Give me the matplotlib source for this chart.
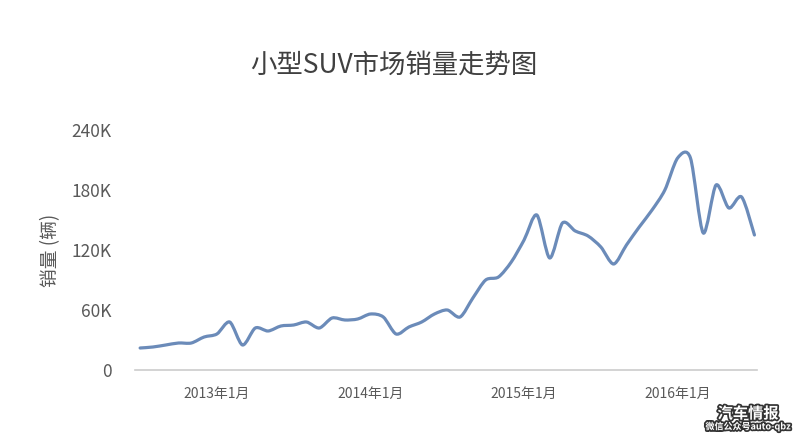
import matplotlib
matplotlib.use("Agg")
import matplotlib.pyplot as plt
import matplotlib.patheffects as pe
from matplotlib.path import Path
from matplotlib.patches import PathPatch
import numpy as np

plt.rcParams["font.family"] = ["Noto Sans CJK SC", "DejaVu Sans"]

# monthly sales, Jul 2012 .. Jul 2016 (thousand units)
months = np.arange(49)
sales = [22, 23, 25, 27, 27, 33, 36, 48, 25, 42, 39, 44, 45, 48, 42, 52, 50, 51,
         56, 53, 36, 43, 48, 56, 60, 53, 72, 90, 93, 108, 130, 155, 112, 147, 139,
         134, 123, 106, 125, 143, 160, 180, 212, 212, 137, 185, 162, 173, 135]
tick_pos = [6, 18, 30, 42]
tick_labels = ["2013年1月", "2014年1月", "2015年1月", "2016年1月"]
y_ticks = [0, 60, 120, 180, 240]
y_labels = ["0", "60K", "120K", "180K", "240K"]

LINE = "#6b8bb9"
GREY = "#595959"

fig = plt.figure(figsize=(8, 4.36), dpi=100)
ax = fig.add_axes([135 / 800, 66 / 436, 622 / 800, 240 / 436])


def smooth_path(x, y, t=1 / 7):
    # Catmull-Rom style cubic bezier through the data points
    x = np.asarray(x, float)
    y = np.asarray(y, float)
    verts = [(x[0], y[0])]
    codes = [Path.MOVETO]
    n = len(x)
    for i in range(n - 1):
        p0 = i - 1 if i > 0 else i
        p3 = i + 2 if i + 2 < n else i + 1
        c1 = (x[i] + (x[i + 1] - x[p0]) * t, y[i] + (y[i + 1] - y[p0]) * t)
        c2 = (x[i + 1] - (x[p3] - x[i]) * t, y[i + 1] - (y[p3] - y[i]) * t)
        verts += [c1, c2, (x[i + 1], y[i + 1])]
        codes += [Path.CURVE4] * 3
    return Path(verts, codes)


ax.add_patch(PathPatch(smooth_path(months, sales), facecolor="none",
                       edgecolor=LINE, lw=2.3, capstyle="round", joinstyle="round"))

ax.set_xlim(-0.4, 48.2)
ax.set_ylim(0, 240)
ax.set_yticks(y_ticks)
ax.set_yticklabels(y_labels)
ax.set_xticks(tick_pos)
ax.set_xticklabels(tick_labels)
ax.tick_params(axis="y", length=0, pad=17, labelsize=12.5, labelcolor=GREY)
ax.tick_params(axis="x", length=0, pad=12, labelsize=10, labelcolor=GREY)
for s in ["top", "right", "left"]:
    ax.spines[s].set_visible(False)
ax.spines["bottom"].set_color("#cccccc")
ax.spines["bottom"].set_linewidth(1.2)

ax.set_ylabel("销量 (辆)", fontsize=13.5, color=GREY, labelpad=7)
fig.text(0.492, 0.85, "小型SUV市场销量走势图", ha="center", va="center",
         fontsize=19, color="#404040")

# watermark
wm = [pe.withStroke(linewidth=2.5, foreground="#333333")]
fig.text(0.935, 0.052, "汽车情报", ha="center", va="center", fontsize=11,
         fontweight="bold", color="white", path_effects=wm)
fig.text(0.935, 0.022, "微信公众号auto-qbz", ha="center", va="center", fontsize=6.5,
         fontweight="bold", color="white", path_effects=wm)

fig.savefig("out.png", dpi=100, facecolor="white")
